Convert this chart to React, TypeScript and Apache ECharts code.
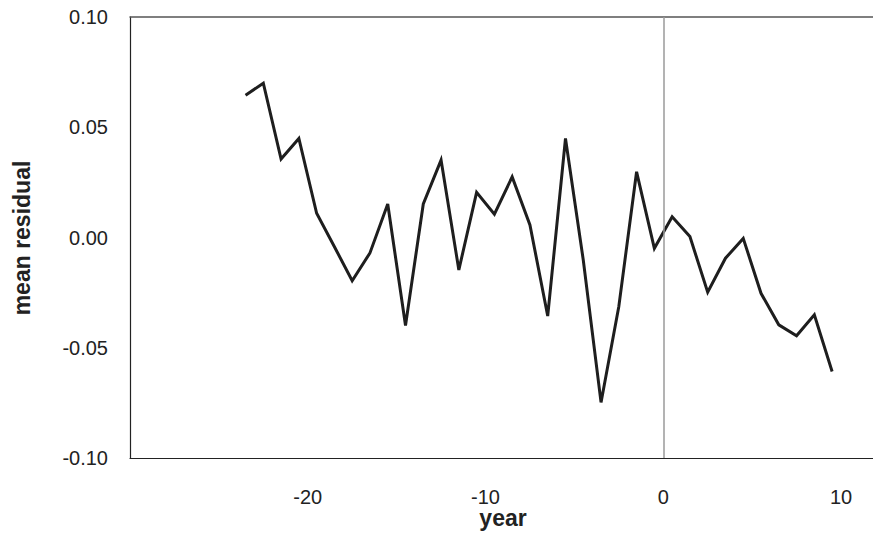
import React, { useEffect, useRef } from "react";
import * as echarts from "echarts";

// Years (mid-year positions) relative to the event at year 0
const years = [
  -23.5, -22.5, -21.5, -20.5, -19.5, -18.5, -17.5, -16.5, -15.5, -14.5, -13.5,
  -12.5, -11.5, -10.5, -9.5, -8.5, -7.5, -6.5, -5.5, -4.5, -3.5, -2.5, -1.5,
  -0.5, 0.5, 1.5, 2.5, 3.5, 4.5, 5.5, 6.5, 7.5, 8.5, 9.5,
];

// Mean residual for each year
const meanResidual = [
  0.0645, 0.070, 0.0356, 0.0449, 0.011, -0.0042, -0.0196, -0.007, 0.0152,
  -0.0399, 0.0152, 0.0351, -0.0147, 0.0205, 0.0106, 0.0275, 0.0057, -0.0356,
  0.0449, -0.0102, -0.0748, -0.0313, 0.0298, -0.0049, 0.0094, 0.0004, -0.0248,
  -0.0094, -0.0004, -0.0253, -0.0396, -0.0446, -0.0351, -0.0608,
];

const xTicks = [-20, -10, 0, 10];
const yTicks = [-0.1, -0.05, 0, 0.05, 0.1];

export default function App() {
  const ref = useRef<HTMLDivElement>(null);

  useEffect(() => {
    document.body.style.margin = "0";
    if (!ref.current) return;
    const chart = echarts.init(ref.current, null, { renderer: "svg" });
    const font = "'Liberation Sans', Arial, sans-serif";

    chart.setOption({
      animation: false,
      backgroundColor: "#ffffff",
      grid: {
        left: 130,
        top: 17,
        bottom: 75,
        right: 0,
      },
      xAxis: [
        {
          type: "value",
          min: -30,
          max: 11.8,
          interval: 10,
          axisLine: { show: true, onZero: false, lineStyle: { color: "#222222", width: 1.2 } },
          axisTick: { show: false },
          splitLine: { show: false },
          axisLabel: {
            margin: 29,
            fontSize: 20,
            fontFamily: font,
            color: "#222222",
            showMinLabel: false,
            showMaxLabel: false,
            formatter: (v: number) => (xTicks.includes(v) ? String(v) : ""),
          },
        },
        {
          // top frame line
          type: "value",
          position: "top",
          min: -30,
          max: 11.8,
          axisLine: { show: true, onZero: false, lineStyle: { color: "#555555", width: 1.5 } },
          axisTick: { show: false },
          axisLabel: { show: false },
          splitLine: { show: false },
        },
      ],
      yAxis: {
        type: "value",
        min: -0.1,
        max: 0.1,
        interval: 0.05,
        axisLine: { show: true, onZero: false, lineStyle: { color: "#222222", width: 1.2 } },
        axisTick: { show: false },
        splitLine: { show: false },
        axisLabel: {
          margin: 22,
          fontSize: 20,
          fontFamily: font,
          color: "#222222",
          formatter: (v: number) =>
            yTicks.some((t) => Math.abs(t - v) < 1e-9) ? v.toFixed(2) : "",
        },
      },
      graphic: [
        {
          type: "text",
          x: 22,
          y: 238,
          rotation: Math.PI / 2,
          style: {
            text: "mean residual",
            font: `bold 23px ${font}`,
            fill: "#222222",
            textAlign: "center",
            textVerticalAlign: "middle",
          },
        },
        {
          type: "text",
          x: 503,
          y: 518,
          style: {
            text: "year",
            font: `bold 23px ${font}`,
            fill: "#222222",
            textAlign: "center",
            textVerticalAlign: "middle",
          },
        },
      ],
      series: [
        {
          type: "line",
          data: years.map((y, i) => [y, meanResidual[i]]),
          showSymbol: false,
          symbol: "none",
          lineStyle: { color: "#1e1e1e", width: 3, join: "miter" },
          markLine: {
            silent: true,
            symbol: "none",
            label: { show: false },
            lineStyle: { color: "#9a9a9a", width: 1.5, type: "solid" },
            data: [{ xAxis: 0 }],
          },
        },
      ],
    });

    return () => chart.dispose();
  }, []);

  return <div ref={ref} style={{ width: 873, height: 533 }} />;
}
